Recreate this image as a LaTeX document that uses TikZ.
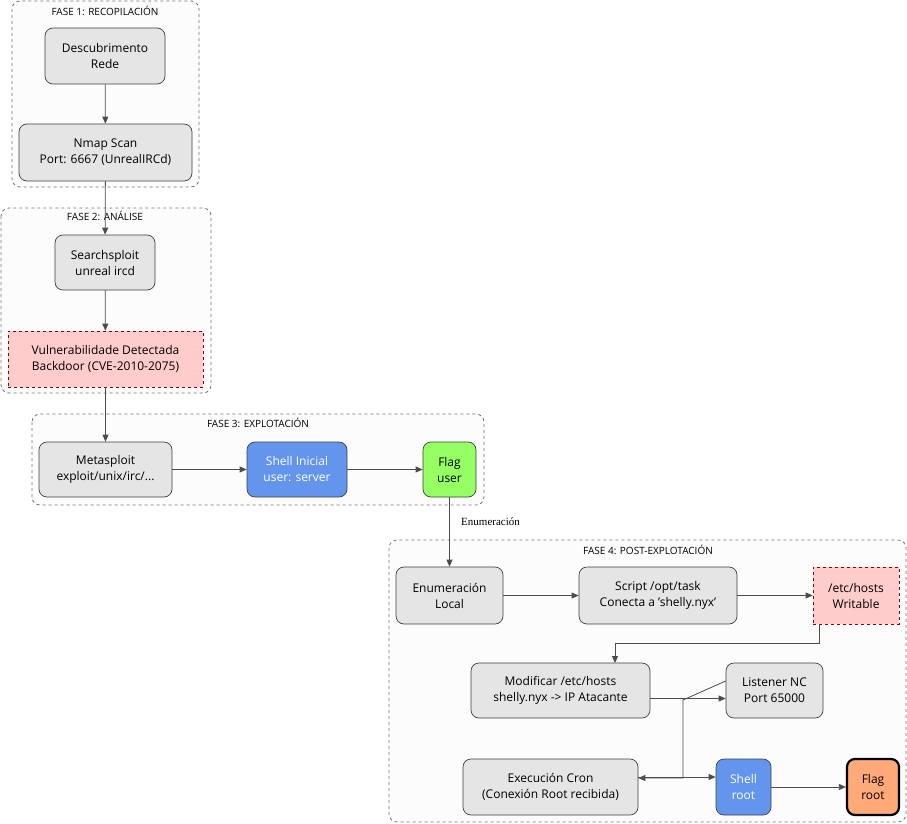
\documentclass[tikz,border=0pt]{standalone}
\usepackage{fontspec}
\setmainfont{Open Sans}
\newfontfamily\serifx{Liberation Serif}
\usetikzlibrary{arrows.meta}
\begin{document}
\begin{tikzpicture}[x=1pt,y=-1pt,
  cl/.style={draw=black!55,dashed,rounded corners=8pt,line width=0.8pt,fill=black!1},
  cllab/.style={font=\fontsize{10}{12}\selectfont,inner sep=0pt},
  box/.style={draw=black!75,rounded corners=8pt,fill=black!10,line width=0.7pt,align=center,font=\fontsize{12}{16}\selectfont,inner sep=0pt},
  pink/.style={box,rounded corners=0pt,dashed,draw=red!55!black,fill=red!20},
  blue/.style={box,fill=blue!45!cyan!60!white,text=white},
  blue/.style={box,fill={rgb,255:red,100;green,149;blue,237},text=white},
  arr/.style={-{Triangle[length=7pt,width=6pt]},draw=black!70,line width=0.8pt}]
\useasboundingbox (0,0) rectangle (907,824);
% clusters
\draw[cl] (12,1) rectangle (199,187);
\node[cllab] (l1) at (105,11) {FASE 1: RECOPILACIÓN};
\draw[cl] (1,208) rectangle (211,393);
\node[cllab] (l2) at (105,216) {FASE 2: ANÁLISE};
\draw[cl] (32,414) rectangle (484,505);
\node[cllab] (l3) at (258,423) {FASE 3: EXPLOTACIÓN};
\draw[cl] (389,540) rectangle (906,822);
\node[cllab] (l4) at (648,550) {FASE 4: POST-EXPLOTACIÓN};
% nodes
\node[box,minimum width=120,minimum height=56] (desc) at (105,56) {Descubrimento\\Rede};
\node[box,minimum width=173,minimum height=57] (nmap) at (105.5,152.5) {Nmap Scan\\Port: 6667 (UnrealIRCd)};
\node[box,minimum width=100,minimum height=55] (ss) at (105,262.5) {Searchsploit\\unreal ircd};
\node[pink,minimum width=195,minimum height=56] (vuln) at (105.5,359) {Vulnerabilidade Detectada\\Backdoor (CVE-2010-2075)};
\node[box,minimum width=133,minimum height=55] (meta) at (105.5,469.5) {Metasploit\\exploit/unix/irc/...};
\node[blue,minimum width=100,minimum height=55] (shell) at (297,469.5) {Shell Inicial\\user: server};
\node[box,fill={rgb,255:red,150;green,255;blue,100},minimum width=53,minimum height=55] (flagu) at (449.5,469.5) {Flag\\user};
\node[box,minimum width=107,minimum height=57] (enum) at (449.5,595.5) {Enumeración\\Local};
\node[box,minimum width=158,minimum height=57] (script) at (658,595.5) {Script /opt/task\\Conecta a 'shelly.nyx'};
\node[pink,minimum width=86,minimum height=57] (hosts) at (856,595.5) {/etc/hosts\\Writable};
\node[box,minimum width=179,minimum height=55] (mod) at (560.5,690.5) {Modificar /etc/hosts\\shelly.nyx -> IP Atacante};
\node[box,minimum width=97,minimum height=55] (list) at (774.5,690.5) {Listener NC\\Port 65000};
\node[box,minimum width=175,minimum height=56] (cron) at (550.5,787) {Execución Cron\\(Conexión Root recibida)};
\node[blue,minimum width=55,minimum height=56] (shr) at (743.5,787) {Shell\\root};
\node[box,fill={rgb,255:red,255;green,170;blue,120},draw=black,line width=2.2pt,minimum width=52,minimum height=56] (flr) at (873,787) {Flag\\root};
% edges
\draw[arr] (desc) -- (nmap);
\draw[arr] (nmap) -- (ss);
\draw[arr] (ss) -- (vuln);
\draw[arr] (vuln) -- (meta);
\draw[arr] (meta) -- (shell);
\draw[arr] (shell) -- (flagu);
\draw[arr] (flagu) -- node[right=8pt,pos=0.35,font=\serifx\fontsize{11}{13}\selectfont] (enl) {Enumeración} (enum);
\draw[arr] (enum) -- (script);
\draw[arr] (script) -- (hosts);
\draw[arr] (hosts.south -| 819,0) |- (615,643) -- (615,663);
\draw[arr] ([yshift=-8pt]mod.east) -- ([yshift=-8pt]list.west);
\draw[arr] ([yshift=9.5pt]list.west) -- (683,700) -- (683,778) -- (cron.east |- 0,778);
\draw[arr] ([yshift=10pt]cron.east) -- ([yshift=10pt]shr.west);
\draw[arr] (shr) -- (flr);
\end{tikzpicture}
\end{document}
